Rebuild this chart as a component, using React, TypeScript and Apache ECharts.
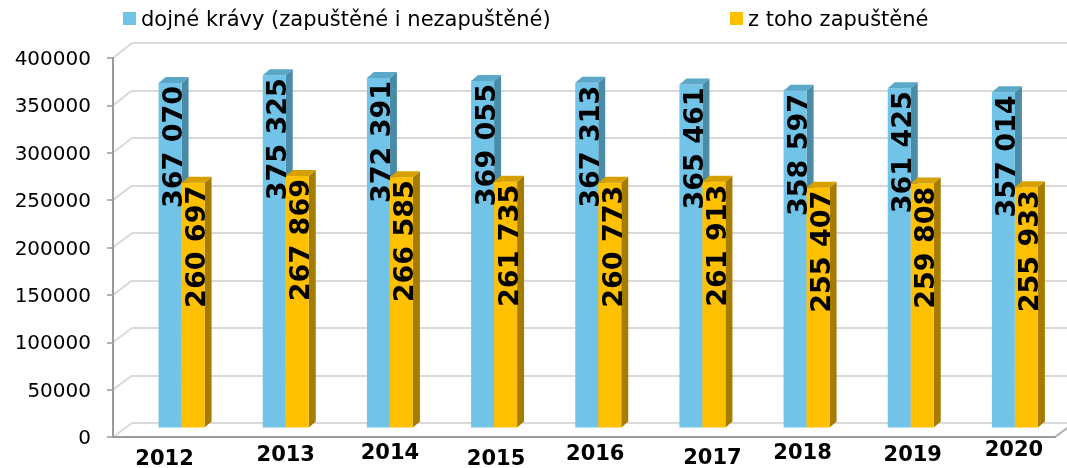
import React, { useEffect, useRef } from "react";
import * as echarts from "echarts";

const CATEGORIES = ["2012", "2013", "2014", "2015", "2016", "2017", "2018", "2019", "2020"];
const DOJNE = [367070, 375325, 372391, 369055, 367313, 365461, 358597, 361425, 357014];
const ZAPUSTENE = [260697, 267869, 266585, 261735, 260773, 261913, 255407, 259808, 255933];
const SERIES_NAMES = ["dojné krávy (zapuštěné i nezapuštěné)", "z toho zapuštěné"];
const Y_MIN = 0;
const Y_MAX = 400000;
const Y_INTERVAL = 50000;

// style constants
const FONT = '"DejaVu Sans", Verdana, sans-serif';
const BAR_W = 23;
const DX = 7;
const DY = -6;
const COLORS = [
  { front: "#71C4E8", side: "#4A8BA7", top: "#5AA7C7" },
  { front: "#FFC000", side: "#A67C00", top: "#D6A000" },
];
// per-label nudges of the x axis labels [dx, dy]
const X_LABEL_SHIFT = [[-17, 9], [0, 5], [0, 3], [2, 9], [-3, 4], [10, 8], [-4, 3.5], [2, 5], [-1, 0]];

const FRONT_LEFT = 113;
const BACK_LEFT = 132;

function fmt(v: number) {
  return String(v).replace(/\B(?=(\d{3})+(?!\d))/g, " ");
}

function makeRender(side: number) {
  const c = COLORS[side];
  return (params: any, api: any) => {
    const i = api.value(0);
    const v = api.value(1);
    const p = api.coord([i, v]);
    const cx = p[0];
    const yTop = p[1];
    const yBase = api.coord([i, 0])[1];
    const x0 = side === 0 ? cx - BAR_W : cx;
    const x1 = x0 + BAR_W;
    return {
      type: "group",
      children: [
        {
          type: "polygon",
          shape: { points: [[x1, yTop], [x1 + DX, yTop + DY], [x1 + DX, yBase + DY], [x1, yBase]] },
          style: { fill: c.side },
        },
        {
          type: "rect",
          shape: { x: x0, y: yTop, width: BAR_W, height: yBase - yTop },
          style: { fill: c.front },
        },
        {
          type: "polygon",
          shape: { points: [[x0, yTop], [x0 + DX, yTop + DY], [x1 + DX, yTop + DY], [x1, yTop]] },
          style: { fill: c.top },
        },
        {
          type: "text",
          x: x0 + BAR_W / 2 + 2.5,
          y: yTop + 3,
          rotation: Math.PI / 2,
          z2: 100,
          style: {
            text: fmt(v),
            align: "right",
            verticalAlign: "middle",
            font: `bold 27px ${FONT}`,
            fill: "#000",
          },
        },
      ],
    };
  };
}

export default function App() {
  const ref = useRef<HTMLDivElement>(null);
  useEffect(() => {
    if (!ref.current) return;
    const chart = echarts.init(ref.current, null, { renderer: "svg" });
    const rich: any = {};
    X_LABEL_SHIFT.forEach(([dx, dy], i) => {
      rich["l" + i] = {
        fontFamily: FONT,
        fontWeight: "bold",
        fontSize: 21,
        color: "#000",
        padding: [Math.max(0, 2 * dy), Math.max(0, -2 * dx), Math.max(0, -2 * dy), Math.max(0, 2 * dx)],
      };
    });
    const legendCommon = {
      top: 3,
      itemWidth: 13,
      itemHeight: 13,
      itemGap: 0,
      textStyle: { fontFamily: FONT, fontSize: 21, color: "#000" },
    };
    const option: any = {
      animation: false,
      legend: [
        { ...legendCommon, left: 118, data: [{ name: SERIES_NAMES[0], icon: "rect" }] },
        { ...legendCommon, left: 725, data: [{ name: SERIES_NAMES[1], icon: "rect" }] },
      ],
      grid: [
        { left: FRONT_LEFT, right: 12, top: 58, bottom: 31 },
        { left: BACK_LEFT, right: 0, top: 43, bottom: 45 },
        { left: 129.5, width: 945, top: 52, bottom: 35 },
      ],
      xAxis: [
        {
          gridIndex: 0,
          type: "category",
          data: CATEGORIES,
          axisLine: { show: true, lineStyle: { color: "#9A9A9A", width: 2 } },
          axisTick: { show: false },
          axisLabel: { show: false },
        },
        { gridIndex: 1, type: "category", data: CATEGORIES, show: false },
        {
          gridIndex: 2,
          type: "category",
          data: CATEGORIES,
          axisLine: { show: false },
          axisTick: { show: false },
          axisLabel: {
            margin: 21,
            verticalAlign: "middle",
            formatter: (val: string, idx: number) => `{l${idx}|${val}}`,
            rich,
          },
        },
      ],
      yAxis: [
        {
          gridIndex: 0,
          type: "value",
          min: Y_MIN,
          max: Y_MAX,
          interval: Y_INTERVAL,
          axisLine: { show: true, lineStyle: { color: "#9A9A9A", width: 2 } },
          axisTick: { show: true, length: 6, lineStyle: { color: "#9A9A9A", width: 1.5 } },
          axisLabel: {
            margin: 22,
            fontFamily: FONT,
            fontSize: 20,
            color: "#000",
            formatter: (v: number) => String(v),
          },
          splitLine: { show: false },
        },
        {
          gridIndex: 1,
          type: "value",
          min: Y_MIN,
          max: Y_MAX,
          interval: Y_INTERVAL,
          axisLine: { show: false },
          axisTick: { show: false },
          axisLabel: { show: false },
          splitLine: { show: true, lineStyle: { color: "#D9D9D9", width: 2 } },
        },
        {
          gridIndex: 2,
          type: "value",
          min: Y_MIN,
          max: Y_MAX,
          show: false,
        },
      ],
      series: [
        {
          type: "custom",
          name: SERIES_NAMES[0],
          xAxisIndex: 2,
          yAxisIndex: 2,
          itemStyle: { color: COLORS[0].front },
          encode: { x: 0, y: 1 },
          data: DOJNE.map((v, i) => [i, v]),
          renderItem: makeRender(0),
        },
        {
          type: "custom",
          name: SERIES_NAMES[1],
          xAxisIndex: 2,
          yAxisIndex: 2,
          itemStyle: { color: COLORS[1].front },
          encode: { x: 0, y: 1 },
          data: ZAPUSTENE.map((v, i) => [i, v]),
          renderItem: makeRender(1),
        },
      ],
    };
    chart.setOption(option);

    // 3D wall / floor connectors derived from the axes
    const lines: any[] = [];
    for (let v = Y_MIN; v <= Y_MAX; v += Y_INTERVAL) {
      const yF = chart.convertToPixel({ yAxisIndex: 0 } as any, v) as number;
      const yB = chart.convertToPixel({ yAxisIndex: 1 } as any, v) as number;
      lines.push({
        type: "line",
        shape: { x1: FRONT_LEFT, y1: yF, x2: BACK_LEFT, y2: yB },
        style: { stroke: "#D9D9D9", lineWidth: 2 },
        z: 0,
      });
    }
    const yF0 = chart.convertToPixel({ yAxisIndex: 0 } as any, 0) as number;
    const yB0 = chart.convertToPixel({ yAxisIndex: 1 } as any, 0) as number;
    const rightEnd = 1067 - 12;
    lines.push({
      type: "line",
      shape: { x1: rightEnd, y1: yF0, x2: rightEnd + (BACK_LEFT - FRONT_LEFT), y2: yB0 },
      style: { stroke: "#B0B0B0", lineWidth: 2 },
      z: 0,
    });
    chart.setOption({ graphic: lines });

    return () => chart.dispose();
  }, []);
  return (
    <div
      ref={ref}
      style={{ position: "fixed", left: 0, top: 0, width: 1067, height: 468 }}
    />
  );
}
